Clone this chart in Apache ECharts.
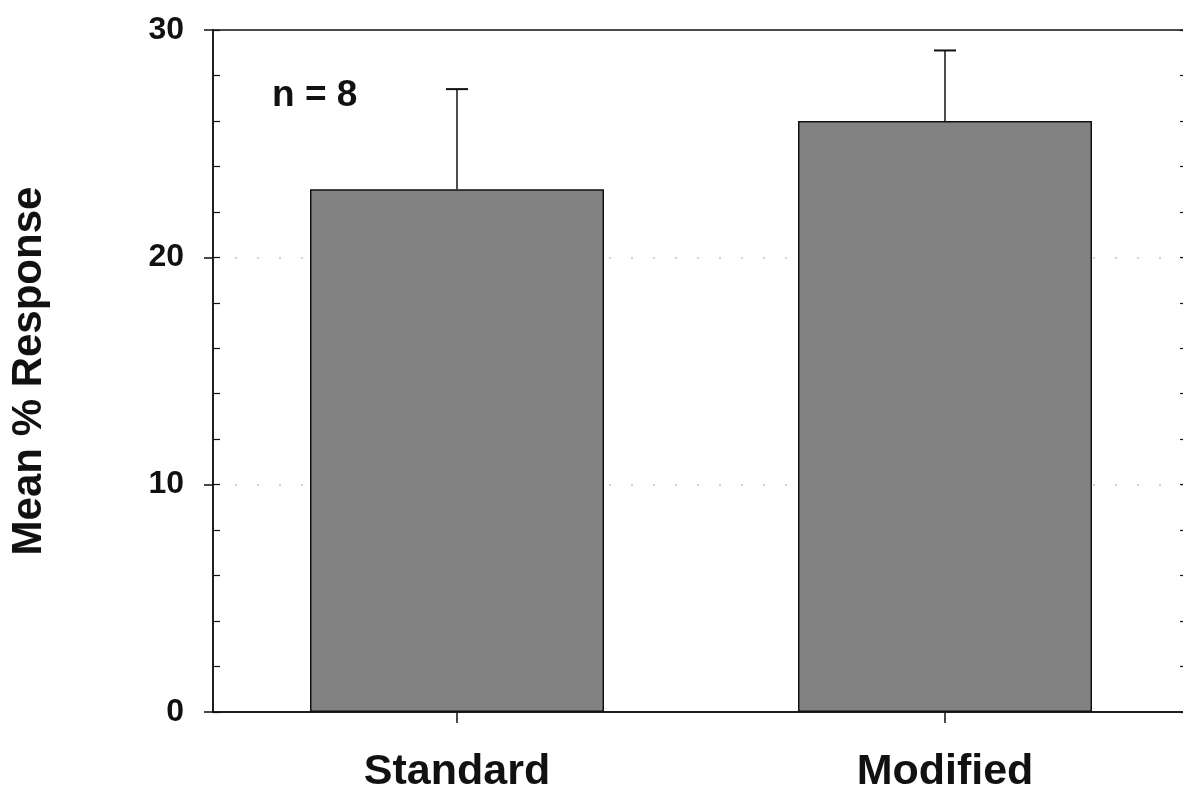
<!DOCTYPE html>
<html>
<head>
<meta charset="utf-8">
<script src="https://cdn.jsdelivr.net/npm/echarts@6/dist/echarts.min.js"></script>
<style>
html,body{margin:0;padding:0;background:#fff;}
#chart{width:1183px;height:793px;}
</style>
</head>
<body>
<div id="chart"></div>
<script>
const categories = ['Standard', 'Modified'];
const means = [23.0, 26.0];
const errorTops = [27.4, 29.1];
const yMin = 0, yMax = 30, yStep = 10, yMinorStep = 2;
const annotation = 'n = 8';
const yTitle = 'Mean % Response';

const FONT = '"Liberation Sans", Arial, sans-serif';
const chart = echarts.init(document.getElementById('chart'), null, {renderer: 'canvas'});

const errData = categories.map((c, i) => [i, means[i], errorTops[i]]);

chart.setOption({
  backgroundColor: '#ffffff',
  animation: false,
  grid: {
    left: 213, top: 30, width: 976, height: 682,
    outerBoundsMode: 'none', containLabel: false,
    show: true, borderColor: '#111', borderWidth: 1.5, backgroundColor: 'transparent'
  },
  xAxis: {
    type: 'category',
    data: categories,
    axisLine: {lineStyle: {color: '#111', width: 1.5}},
    axisTick: {show: true, alignWithLabel: true, length: 11, lineStyle: {color: '#111', width: 1.5}},
    axisLabel: {color: '#111', fontFamily: FONT, fontWeight: 'bold', fontSize: 43, margin: 39},
    splitLine: {show: false}
  },
  yAxis: [
    {
      type: 'value', min: yMin, max: yMax, interval: yStep,
      name: yTitle, nameLocation: 'middle', nameRotate: 90, nameGap: 163,
      nameTextStyle: {color: '#111', fontFamily: FONT, fontWeight: 'bold', fontSize: 42},
      axisLine: {show: true, lineStyle: {color: '#111', width: 1.5}},
      axisTick: {show: true, inside: false, length: 9, lineStyle: {color: '#111', width: 1.5}},
      axisLabel: {color: '#111', fontFamily: FONT, fontWeight: 'bold', fontSize: 32, margin: 29},
      splitLine: {show: true, showMinLine: false, showMaxLine: false,
        lineStyle: {color: '#c4c4c4', width: 1.5, type: [2, 20]}}
    },
    {
      type: 'value', min: yMin, max: yMax, interval: yMinorStep, position: 'left',
      axisLine: {show: false},
      axisTick: {show: true, inside: true, length: 7, lineStyle: {color: '#111', width: 1.2}},
      axisLabel: {show: false},
      splitLine: {show: false}
    },
    {
      type: 'value', min: yMin, max: yMax, interval: yMinorStep, position: 'right',
      axisLine: {show: true, lineStyle: {color: '#111', width: 1.5}},
      axisTick: {show: true, inside: true, length: 9, lineStyle: {color: '#111', width: 1.2}},
      axisLabel: {show: false},
      splitLine: {show: false}
    }
  ],
  series: [
    {
      type: 'bar',
      data: means,
      barWidth: 294,
      itemStyle: {color: '#828282', borderColor: '#111', borderWidth: 1.5},
      z: 2
    },
    {
      type: 'custom',
      data: errData,
      z: 3,
      renderItem: function (params, api) {
        const x = api.value(0);
        const lo = api.coord([x, api.value(1)]);
        const hi = api.coord([x, api.value(2)]);
        return {
          type: 'group',
          children: [
            {type: 'line', shape: {x1: lo[0], y1: lo[1], x2: hi[0], y2: hi[1]}, style: {stroke: '#111', lineWidth: 1.5}},
            {type: 'line', shape: {x1: hi[0] - 11, y1: hi[1], x2: hi[0] + 11, y2: hi[1]}, style: {stroke: '#111', lineWidth: 2}}
          ]
        };
      }
    }
  ],
  graphic: [
    {
      type: 'text', left: 272, top: 77,
      style: {text: annotation, fill: '#111', font: 'bold 37px ' + FONT}
    }
  ]
});
</script>
</body>
</html>
